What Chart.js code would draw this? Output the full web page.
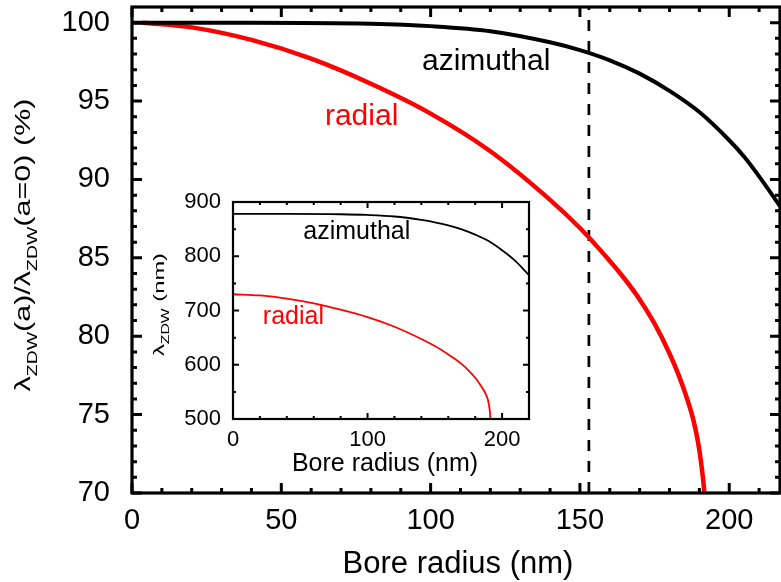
<!DOCTYPE html>
<html>
<head>
<meta charset="utf-8">
<script src="https://cdn.jsdelivr.net/npm/chart.js@4.4.1/dist/chart.umd.min.js"></script>
<style>
html, body { margin:0; padding:0; background:#fff; }
#wrap { position:relative; width:781px; height:582px; overflow:hidden; }
#mainChart { position:absolute; left:0; top:0; }
#insetChart { position:absolute; left:140px; top:190px; }
</style>
</head>
<body>
<div id="wrap">
    <canvas id="mainChart" width="781" height="582"></canvas>
    <canvas id="insetChart" width="400" height="300"></canvas>
</div>
<script>
/* ---------- main panel data (ratio, %) ---------- */
const azimuthalX   = [0, 40, 80, 100, 120, 140, 150, 160, 170, 180, 190, 200, 205, 210, 217];
const azimuthalPct = [100, 100, 99.93, 99.78, 99.46, 98.75, 98.25, 97.6, 96.75, 95.65, 94.3, 92.5, 91.45, 90.2, 88.3];

const radialX   = [3.5, 20, 40, 60, 80, 100, 120, 140, 150, 160, 165, 170, 175, 180, 183, 186, 188, 189.5, 190.5, 191.2, 191.7];
const radialPct = [100, 99.7, 98.9, 97.7, 96.1, 94.2, 91.8, 88.7, 86.9, 84.8, 83.65, 82.35, 80.8, 78.9, 77.55, 75.95, 74.65, 73.3, 72.05, 70.95, 70];

const cutoffRadius = 153;

const mainXTicks = [0, 50, 100, 150, 200];
const mainXMinor = [10, 20, 30, 40, 60, 70, 80, 90, 110, 120, 130, 140, 160, 170, 180, 190, 210];
const mainYTicks = [70, 75, 80, 85, 90, 95, 100];
const mainYMinor = [71, 72, 73, 74, 76, 77, 78, 79, 81, 82, 83, 84, 86, 87, 88, 89, 91, 92, 93, 94, 96, 97, 98, 99];

/* ---------- inset data (lambda ZDW, nm) ---------- */
const insetAzX  = [0, 40, 80, 100, 120, 140, 150, 160, 170, 180, 190, 200, 210, 220];
const insetAzNm = [878, 878, 877.4, 876.1, 873.3, 867, 862.6, 856.9, 849.5, 839.8, 828, 811, 791, 765];

const insetRadX  = [0, 20, 40, 60, 80, 100, 120, 140, 150, 160, 165, 170, 175, 180, 183, 186, 188, 189.5, 190.5, 191, 191.3];
const insetRadNm = [730, 727.8, 722, 713.2, 701.5, 687.7, 670.1, 647.5, 634.4, 619, 610.6, 601.2, 589.8, 576, 566, 554.5, 545, 535, 522, 512, 500];

const insetXTicks = [0, 100, 200];
const insetXMinor = [20, 40, 60, 80, 120, 140, 160, 180, 220];
const insetYTicks = [500, 600, 700, 800, 900];
const insetYMinor = [550, 650, 750, 850];

const FONT = "'Liberation Sans', Arial, sans-serif";

function pts(xs, ys) {
    return xs.map((v, i) => ({ x: v, y: ys[i] }));
}

// box + inward ticks on all four sides, labels and titles
const framePlugin = {
    id: "frame",
    afterDatasetsDraw(chart, args, o) {
        const { ctx, chartArea: a, scales: { x, y } } = chart;
        ctx.save();
        ctx.strokeStyle = "#000";
        ctx.lineCap = "butt";
        ctx.lineWidth = o.tickWidth;
        ctx.beginPath();
        const xt = (vals, len) => vals.forEach(v => {
            const px = x.getPixelForValue(v);
            ctx.moveTo(px, a.bottom); ctx.lineTo(px, a.bottom - len);
            ctx.moveTo(px, a.top);    ctx.lineTo(px, a.top + len);
        });
        const yt = (vals, len) => vals.forEach(v => {
            const py = y.getPixelForValue(v);
            ctx.moveTo(a.left, py);  ctx.lineTo(a.left + len, py);
            ctx.moveTo(a.right, py); ctx.lineTo(a.right - len, py);
        });
        xt(o.xMajor, o.majorLen); xt(o.xMinor, o.minorLen);
        yt(o.yMajor, o.majorLen); yt(o.yMinor, o.minorLen);
        ctx.stroke();
        ctx.lineWidth = o.borderWidth;
        ctx.strokeRect(a.left, a.top, a.right - a.left, a.bottom - a.top);

        // curve labels
        ctx.textAlign = "center";
        ctx.textBaseline = "alphabetic";
        o.labels.forEach(l => {
            ctx.fillStyle = l.color;
            ctx.font = l.size + "px " + FONT;
            ctx.fillText(l.text, x.getPixelForValue(l.x), y.getPixelForValue(l.y));
        });

        // x title
        ctx.fillStyle = "#000";
        ctx.font = o.xTitle.size + "px " + FONT;
        ctx.fillText(o.xTitle.text, (a.left + a.right) / 2 + o.xTitle.dx, a.bottom + o.xTitle.dy);

        // y title with subscripts, rotated
        const t = o.yTitle;
        ctx.translate(t.x, (a.top + a.bottom) / 2 + t.dy);
        ctx.rotate(-Math.PI / 2);
        ctx.textAlign = "left";
        let w = 0;
        t.parts.forEach(p => {
            ctx.font = (p.sub ? t.subSize : t.size) + "px " + FONT;
            p.w = ctx.measureText(p.t).width;
            w += p.w;
        });
        ctx.scale(t.length / w, 1);
        let cx = -w / 2;
        t.parts.forEach(p => {
            ctx.font = (p.sub ? t.subSize : t.size) + "px " + FONT;
            ctx.fillText(p.t, cx, p.sub ? t.subShift : 0);
            cx += p.w;
        });
        ctx.restore();
    }
};

function fixedTicks(list) {
    return scale => { scale.ticks = list.map(v => ({ value: v })); };
}

function fitTo(prop, size) {
    return s => {
        s[prop] = size;
        s.paddingTop = 0; s.paddingBottom = 0;
        s.paddingLeft = 0; s.paddingRight = 0;
    };
}

function buildMain() {
    const ctx = document.getElementById("mainChart").getContext("2d");
    new Chart(ctx, {
        type: "line",
        data: {
            datasets: [
                {
                    label: "azimuthal",
                    data: pts(azimuthalX, azimuthalPct),
                    borderColor: "#000",
                    borderWidth: 4,
                    pointRadius: 0,
                    cubicInterpolationMode: "monotone"
                },
                {
                    label: "radial",
                    data: pts(radialX, radialPct),
                    borderColor: "#ff0000",
                    borderWidth: 4.5,
                    pointRadius: 0,
                    cubicInterpolationMode: "monotone"
                },
                {
                    label: "cutoff",
                    data: [{ x: cutoffRadius, y: 70 }, { x: cutoffRadius, y: 101 }],
                    borderColor: "#000",
                    borderWidth: 2.7,
                    borderDash: [11, 10],
                    pointRadius: 0
                }
            ]
        },
        options: {
            responsive: false,
            devicePixelRatio: 1,
            animation: false,
            layout: { padding: { top: 7, right: 1, left: 0, bottom: 0 } },
            plugins: {
                legend: { display: false },
                tooltip: { enabled: false },
                frame: {
                    tickWidth: 3, borderWidth: 3.2, majorLen: 10, minorLen: 5,
                    xMajor: mainXTicks, xMinor: mainXMinor,
                    yMajor: mainYTicks, yMinor: mainYMinor,
                    labels: [
                        { text: "azimuthal", x: 118.6, y: 96.98, color: "#000", size: 30 },
                        { text: "radial", x: 76.9, y: 93.46, color: "#ff0000", size: 30 }
                    ],
                    xTitle: { text: "Bore radius (nm)", size: 31, dx: 2, dy: 80 },
                    yTitle: {
                        x: 30, dy: -5, length: 293, size: 22, subSize: 14, subShift: 7,
                        parts: [
                            { t: "λ" }, { t: "ZDW", sub: true }, { t: "(a)/" },
                            { t: "λ" }, { t: "ZDW", sub: true }, { t: "(a=0) (%)" }
                        ]
                    }
                }
            },
            scales: {
                x: {
                    type: "linear",
                    min: 0, max: 217,
                    afterBuildTicks: fixedTicks(mainXTicks),
                    afterFit: fitTo("height", 89),
                    grid: { display: false },
                    border: { display: false },
                    ticks: { color: "#000", padding: 3, font: { family: FONT, size: 29 } }
                },
                y: {
                    min: 70, max: 101,
                    afterBuildTicks: fixedTicks(mainYTicks),
                    afterFit: fitTo("width", 132),
                    grid: { display: false },
                    border: { display: false },
                    ticks: { color: "#000", padding: 14, font: { family: FONT, size: 29 } }
                }
            }
        },
        plugins: [framePlugin]
    });
}

function buildInset() {
    const ctx = document.getElementById("insetChart").getContext("2d");
    new Chart(ctx, {
        type: "line",
        data: {
            datasets: [
                {
                    label: "azimuthal",
                    data: pts(insetAzX, insetAzNm),
                    borderColor: "#000",
                    borderWidth: 1.8,
                    pointRadius: 0,
                    cubicInterpolationMode: "monotone"
                },
                {
                    label: "radial",
                    data: pts(insetRadX, insetRadNm),
                    borderColor: "#ff0000",
                    borderWidth: 1.8,
                    pointRadius: 0,
                    cubicInterpolationMode: "monotone"
                }
            ]
        },
        options: {
            responsive: false,
            devicePixelRatio: 1,
            animation: false,
            layout: { padding: { top: 12, right: 11, left: 0, bottom: 0 } },
            plugins: {
                legend: { display: false },
                tooltip: { enabled: false },
                frame: {
                    tickWidth: 2, borderWidth: 2.2, majorLen: 6, minorLen: 3,
                    xMajor: insetXTicks, xMinor: insetXMinor,
                    yMajor: insetYTicks, yMinor: insetYMinor,
                    labels: [
                        { text: "azimuthal", x: 92, y: 831.8, color: "#000", size: 25 },
                        { text: "radial", x: 44.9, y: 675, color: "#ff0000", size: 25 }
                    ],
                    xTitle: { text: "Bore radius (nm)", size: 25, dx: 4, dy: 52 },
                    yTitle: {
                        x: 24, dy: -6, length: 103, size: 15, subSize: 10, subShift: 5,
                        parts: [
                            { t: "λ" }, { t: "ZDW", sub: true }, { t: " (nm)" }
                        ]
                    }
                }
            },
            scales: {
                x: {
                    type: "linear",
                    min: 0, max: 220,
                    afterBuildTicks: fixedTicks(insetXTicks),
                    afterFit: fitTo("height", 71),
                    grid: { display: false },
                    border: { display: false },
                    ticks: { color: "#000", padding: 0, font: { family: FONT, size: 22 } }
                },
                y: {
                    min: 500, max: 900,
                    afterBuildTicks: fixedTicks(insetYTicks),
                    afterFit: fitTo("width", 93),
                    grid: { display: false },
                    border: { display: false },
                    ticks: { color: "#000", padding: 4, font: { family: FONT, size: 22 } }
                }
            }
        },
        plugins: [framePlugin]
    });
}

buildMain();
buildInset();
</script>
</body>
</html>
